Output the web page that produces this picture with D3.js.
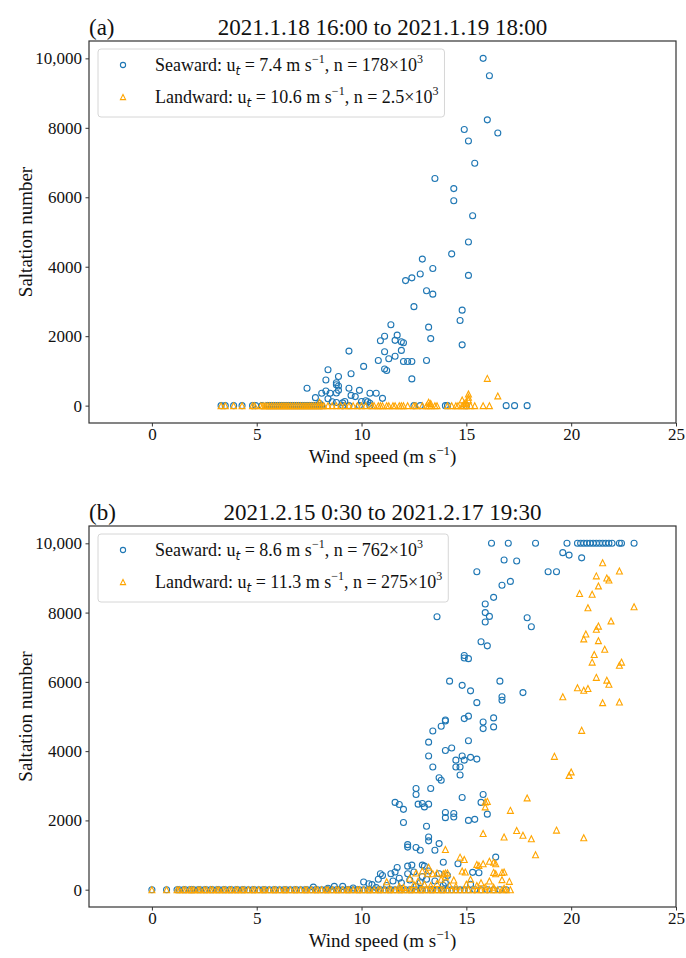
<!DOCTYPE html>
<html>
<head>
<meta charset="utf-8">
<script src="https://cdn.jsdelivr.net/npm/d3@7"></script>
<style>
  body { margin: 0; background: #fff; }
  svg { display: block; }
  text { font-family: 'Liberation Serif', 'Times New Roman', serif; fill: #111; }
</style>
</head>
<body>
<svg></svg>
<script>

let xTicks = [0, 5, 10, 15, 20, 25]
let yTicks = [0, 2000, 4000, 6000, 8000, 10000]
let yTickLabels = ['0', '2000', '4000', '6000', '8000', '10,000']

let titles = ['2021.1.18 16:00 to 2021.1.19 18:00', '2021.2.15 0:30 to 2021.2.17 19:30']
let panelLabels = ['(a)', '(b)']
let seaLegend = [['7.4', '178'], ['8.6', '762']]
let landLegend = [['10.6', '2.5'], ['11.3', '275']]

// (a) seaward, points above zero
let seawardA = [[15.8,10000],[16.1,9500],[16.0,8230],[14.9,7950],[16.5,7850],[15.1,7620],[15.4,6980],[13.5,6540],
  [14.4,6250],[14.4,5900],[15.3,5470],[15.1,4710],[14.3,4370],[12.9,4220],[13.4,3950],[12.8,3790],[15.1,3750],
  [12.1,3600],[12.4,3680],[13.1,3310],[13.4,3210],[12.5,2850],[14.8,2750],[14.7,2450],[11.4,2330],[13.2,2260],
  [11.1,2000],[11.7,2030],[10.9,1870],[11.6,1880],[11.9,1840],[12.0,1810],[13.3,1930],[9.4,1570],[11.1,1550],
  [11.9,1590],[11.6,1420],[11.3,1350],[10.8,1300],[12.0,1270],[12.2,1270],[12.4,1270],[13.1,1300],[14.8,1750],
  [10.1,1130],[8.4,1035],[11.1,1055],[11.2,1010],[9.5,920],[12.4,770],[8.9,840],[8.3,740],[8.8,660],[8.8,600],
  [8.9,565],[7.4,500],[9.4,500],[9.9,440],[8.3,420],[8.1,355],[8.5,355],[8.8,365],[8.9,440],[10.4,355],[10.7,355],
  [9.5,295],[9.7,260],[7.8,230],[8.4,200],[11.0,210],[9.2,120],[8.6,110],[8.8,90],[10.0,120],[10.2,140],[10.3,110],
  [10.4,70],[9.1,80],[8.0,60]]
let seawardAZero = [3.3,3.5,3.9,4.3,4.8,4.95,5.25,5.5,5.6,5.7,5.8,5.9,6.0,6.1,6.2,6.3,6.4,6.5,6.6,6.7,6.8,6.9,7.0,
  7.1,7.2,7.3,7.4,7.5,7.6,7.7,7.8,7.9,8.0,8.1,9.1,9.4,9.9,10.4,12.5,12.8,14.0,14.1,15.0,16.9,17.3,17.9]

let landwardA = [[16.0,785],[15.1,335],[15.1,240],[15.1,165],[16.5,280],[14.8,165],[13.2,100],[8.0,95],[15.0,80],
  [13.3,60],[14.9,60]]
let landwardAZero = [3.3,3.5,3.9,4.3,4.8,4.9,5.2,5.3,5.4,5.5,5.6,5.7,5.8,5.9,6.0,6.1,6.2,6.3,6.4,6.5,6.6,6.7,6.8,
  6.9,7.0,7.1,7.2,7.3,7.4,7.5,7.6,7.7,7.8,7.9,8.0,8.1,8.2,8.4,8.6,8.8,9.0,9.2,9.4,9.6,9.8,10.0,10.2,10.5,10.6,10.8,
  10.9,11.0,11.2,11.3,11.5,11.6,11.8,11.9,12.0,12.2,12.5,12.6,12.9,13.1,13.2,13.3,13.5,13.6,14.1,14.3,14.5,14.6,
  14.8,14.9,15.0,15.2,15.4,15.8,16.1]

// (b)
let seawardB = [[16.2,10000],[17.0,10000],[18.3,10000],[19.8,10000],[20.3,10000],[20.45,10000],[20.6,10000],
  [20.75,10000],[20.9,10000],[21.05,10000],[21.2,10000],[21.35,10000],[21.5,10000],[21.65,10000],[21.8,10000],
  [21.95,10000],[22.3,10000],[22.4,10000],[23.0,10000],
  [19.6,9730],[19.9,9660],[20.5,9580],[16.8,9520],[17.4,9490],[15.5,9180],[18.9,9180],[19.3,9180],[17.1,8900],
  [16.7,8790],[16.3,8440],[15.9,8250],[15.9,8000],[16.1,7890],[15.9,7730],[13.6,7880],[17.9,7850],[18.1,7590],
  [15.7,7160],[16.0,7040],[14.9,6760],[14.9,6690],[15.1,6670],[14.2,6020],[14.8,5900],[15.2,5740],[16.6,6020],
  [17.7,5690],[15.5,5400],[16.7,5570],[16.7,5470],[14.0,4900],[14.9,4940],[15.1,5010],[16.3,4960],
  [14.0,4870],[13.8,4720],[15.8,4840],[15.8,4650],[16.3,4700],[13.4,4580],[13.2,4260],[15.1,4300],[14.0,4020],
  [14.3,4090],[14.8,3860],[14.5,3740],[14.9,3740],[15.2,3820],[15.5,3770],[13.2,3860],[14.5,3540],[14.7,3540],
  [14.7,3310],[13.4,3540],[13.7,3230],[13.8,3160],[12.6,2920],[12.6,2750],[13.3,2920],[15.8,2750],[15.7,2520],
  [16.0,2180],[14.8,2660],[11.6,2520],[11.8,2460],[12.0,2320],[12.7,2470],[12.9,2490],[13.0,2390],[13.2,2470],
  [14.0,2230],[14.0,2080],[14.4,2200],[14.4,2100],[15.1,2000],[15.4,2030],[12.0,1940],[13.1,1830],[13.2,1520],
  [13.2,1410],[13.7,1330],[12.2,1300],[12.2,1230],[12.6,1220],[12.8,1140],[13.5,1140],[16.4,940],[13.9,790],
  [14.6,750],[11.7,640],[12.2,680],[12.4,710],[12.9,710],[13.0,680],[15.3,500],[15.6,490],
  [10.9,460],[11.0,410],[11.4,460],[11.6,510],[12.2,460],[12.5,510],[13.2,540],[13.7,460],[14.1,410],[10.1,220],
  [10.35,170],[10.5,145],[9.1,95],[8.7,95],[7.7,75],[11.5,250],[11.9,200],[12.3,280],[12.8,200],[13.1,300],
  [13.5,250],[14.0,190],[15.2,155],[12.6,100],[13.9,120],[11.2,120],[10.7,60],[9.6,50],[8.4,40],[11.8,330],
  [12.9,380],[10.8,300]]
let seawardBZero = [0,0.7,1.2,1.3,1.5,1.6,1.8,1.9,2.0,2.2,2.3,2.5,2.6,2.8,2.9,3.1,3.2,3.4,3.5,3.7,3.8,4.0,4.1,4.3,
  4.4,4.6,4.8,4.9,5.1,5.3,5.4,5.6,5.8,5.9,6.1,6.3,6.4,6.6,6.8,6.9,7.1,7.3,7.4,7.6,7.8,7.9,8.1,8.3,8.4,8.6,8.8,8.9,
  9.1,9.3,9.4,9.6,9.8,9.9,10.1,10.3,10.4,10.6,10.8,10.9,11.1,11.3,11.4,11.6,11.8,11.9,12.1,12.3,12.4,12.6,12.8,
  12.9,13.1,13.3,13.4,13.6,13.8,13.9,14.1,14.3,14.5,14.7,14.9,15.1,15.4,15.7,16.0,16.3,16.6,16.9]

let landwardB = [[21.5,9440],[22.3,9200],[21.2,9060],[21.7,9000],[21.8,8940],[21.3,8770],[20.4,8550],[21.0,8530],
  [20.8,8140],[23.0,8170],[21.9,7760],[21.3,7610],[21.2,7520],[20.7,7380],[20.6,7240],[21.3,7190],[21.6,6940],
  [21.1,6790],[21.0,6570],[22.4,6570],[22.3,6480],[21.2,6130],[21.7,6050],[21.8,5930],[20.3,5830],[20.6,5760],
  [20.8,5810],[19.6,5570],[21.5,5400],[22.3,5420],[20.5,4600],[19.2,3850],[19.9,3300],[20.0,3400],[19.3,1720],
  [20.6,1500],[15.9,2530],[16.0,2550],[15.9,2390],[17.9,2650],[17.1,2290],[15.8,1620],[16.8,1520],[17.4,1710],
  [17.7,1570],[18.1,1470],[18.3,1010],[14.0,1160],[14.7,940],[14.9,870],[15.5,730],[15.8,750],[16.1,820],
  [16.3,790],[12.6,480],[13.2,650],[14.8,540],[16.3,500],[16.7,500],[13.6,480],[14.0,480],[14.1,480],[16.4,460],
  [16.8,510],[16.7,290],[17.05,240],[14.95,510],[12.9,540],[13.15,460],[13.4,460],[13.9,460],[14.0,370],
  [11.2,230],[12.7,250],[12.5,150],[13.0,160],[13.3,120],[13.6,180],[14.2,120],[14.5,100],[15.0,160],[15.5,120],
  [15.9,80],[16.3,70],[16.8,40],[12.0,60],[13.8,300],[14.4,280],[15.2,300],[15.7,200],[16.1,250],[11.8,100],
  [12.3,330],[16.4,750],[15.6,700]]
let landwardBZero = [0,0.7,1.2,1.3,1.5,1.6,1.8,1.9,2.0,2.2,2.3,2.5,2.6,2.8,2.9,3.1,3.2,3.4,3.5,3.7,3.8,4.0,4.1,
  4.3,4.4,4.6,4.8,4.9,5.1,5.3,5.4,5.6,5.8,5.9,6.1,6.3,6.4,6.6,6.8,6.9,7.1,7.3,7.4,7.6,7.8,7.9,8.1,8.3,8.4,8.6,
  8.8,8.9,9.1,9.3,9.4,9.6,9.8,9.9,10.1,10.3,10.4,10.6,10.8,10.9,11.1,11.3,11.4,11.6,11.8,11.9,12.1,12.3,12.4,
  12.6,12.8,12.9,13.1,13.3,13.4,13.6,13.8,13.9,14.1,14.3,14.5,14.7,14.9,15.1,15.3,15.5,15.7,15.9,16.1,16.3,16.5,
  16.7,16.9,17.1]

let blue = '#1f77b4'
let orange = '#ffa500'

let svg = d3.select('svg').attr('width', 686).attr('height', 958)

let left = 89, right = 676
let x = d3.scaleLinear().domain([-3, 25]).range([left, right])

function tri(s) {
  return `M0,${-s}L${s},${s}L${-s},${s}Z`
}

function addMarks(g, pts, kind, y) {
  if (kind === 'circle') {
    g.append('g').selectAll('circle')
      .data(pts)
      .enter().append('circle')
      .attr('cx', d => x(d[0]))
      .attr('cy', d => y(d[1]))
      .attr('r', 3)
      .attr('fill', 'none')
      .attr('stroke', blue)
      .attr('stroke-width', 1.1)
  } else {
    g.append('g').selectAll('path')
      .data(pts)
      .enter().append('path')
      .attr('d', tri(3))
      .attr('transform', d => `translate(${x(d[0])},${y(d[1])})`)
      .attr('fill', 'none')
      .attr('stroke', orange)
      .attr('stroke-width', 1.1)
  }
}

function legendLabel(t, name, ut, n) {
  t.append('tspan').text(`${name}: u`)
  t.append('tspan').attr('font-family', 'DejaVu Sans').attr('font-style', 'italic')
    .attr('font-size', 12).attr('dy', 4).text('t')
  t.append('tspan').attr('dy', -4).text(` = ${ut} m s`)
  t.append('tspan').attr('font-size', 12).attr('dy', -8).text('\u22121')
  t.append('tspan').attr('dy', 8).text(`, n = ${n}\u00d710`)
  t.append('tspan').attr('font-size', 12).attr('dy', -8).text('3')
}

function drawPanel(i, top, bottom, sea, seaZero, land, landZero) {
  let y = d3.scaleLinear().domain([-500, 10500]).range([bottom, top])
  let g = svg.append('g')
  let cx = (left + right) / 2

  g.append('text')
    .attr('x', left)
    .attr('y', top - 6)
    .attr('font-size', 23)
    .text(panelLabels[i])

  g.append('text')
    .attr('x', cx)
    .attr('y', top - 6)
    .attr('text-anchor', 'middle')
    .attr('font-size', 23)
    .text(titles[i])

  let xAxis = g.append('g')
    .attr('transform', `translate(0,${bottom})`)
    .call(d3.axisBottom(x).tickValues(xTicks).tickSize(3.5).tickPadding(1))
  let yAxis = g.append('g')
    .attr('transform', `translate(${left},0)`)
    .call(d3.axisLeft(y).tickValues(yTicks).tickFormat((d, k) => yTickLabels[k]).tickSize(3.5).tickPadding(3.5))

  ;[xAxis, yAxis].forEach(a => {
    a.select('.domain').remove()
    a.selectAll('line').attr('stroke', '#333')
    a.selectAll('text')
      .attr('font-family', "'Liberation Serif', serif")
      .attr('font-size', 17)
      .attr('fill', '#111')
  })

  addMarks(g, sea.concat(seaZero.map(v => [v, 0])), 'circle', y)
  addMarks(g, land.concat(landZero.map(v => [v, 0])), 'tri', y)

  g.append('rect')
    .attr('x', left)
    .attr('y', top)
    .attr('width', right - left)
    .attr('height', bottom - top)
    .attr('fill', 'none')
    .attr('stroke', '#333')
    .attr('stroke-width', 1.2)

  // legend
  let lg = g.append('g')
  let box = lg.append('rect')
  let rows = [[seaLegend[i], 'Seaward', 'circle'], [landLegend[i], 'Landward', 'tri']]
  let texts = lg.append('g')
  rows.forEach((r, k) => {
    let ry = top + 30 + k * 32
    if (r[2] === 'circle') {
      lg.append('circle').attr('cx', left + 34).attr('cy', ry - 6).attr('r', 2.6)
        .attr('fill', 'none').attr('stroke', blue).attr('stroke-width', 1.1)
    } else {
      lg.append('path').attr('d', tri(2.6)).attr('transform', `translate(${left + 34},${ry - 6})`)
        .attr('fill', 'none').attr('stroke', orange).attr('stroke-width', 1.1)
    }
    let t = texts.append('text')
      .attr('x', left + 66)
      .attr('y', ry)
      .attr('font-size', 18)
    legendLabel(t, r[1], r[0][0], r[0][1])
  })
  let bb = texts.node().getBBox()
  box.attr('x', left + 9)
    .attr('y', top + 8)
    .attr('width', bb.x + bb.width + 6 - (left + 9))
    .attr('height', 68)
    .attr('rx', 3)
    .attr('fill', '#fff')
    .attr('fill-opacity', 0.8)
    .attr('stroke', '#d6d6d6')
    .attr('stroke-width', 1)

  g.append('text')
    .attr('transform', `translate(32,${(top + bottom) / 2}) rotate(-90)`)
    .attr('text-anchor', 'middle')
    .attr('font-size', 19)
    .text('Saltation number')

  let xl = g.append('text')
    .attr('x', cx)
    .attr('y', bottom + 40)
    .attr('text-anchor', 'middle')
    .attr('font-size', 19)
  xl.append('tspan').text('Wind speed (m s')
  xl.append('tspan').attr('font-size', 13).attr('dy', -8).text('\u22121')
  xl.append('tspan').attr('dy', 8).text(')')
}

drawPanel(0, 41, 423, seawardA, seawardAZero, landwardA, landwardAZero)
drawPanel(1, 526, 907, seawardB, seawardBZero, landwardB, landwardBZero)

</script>
</body>
</html>
